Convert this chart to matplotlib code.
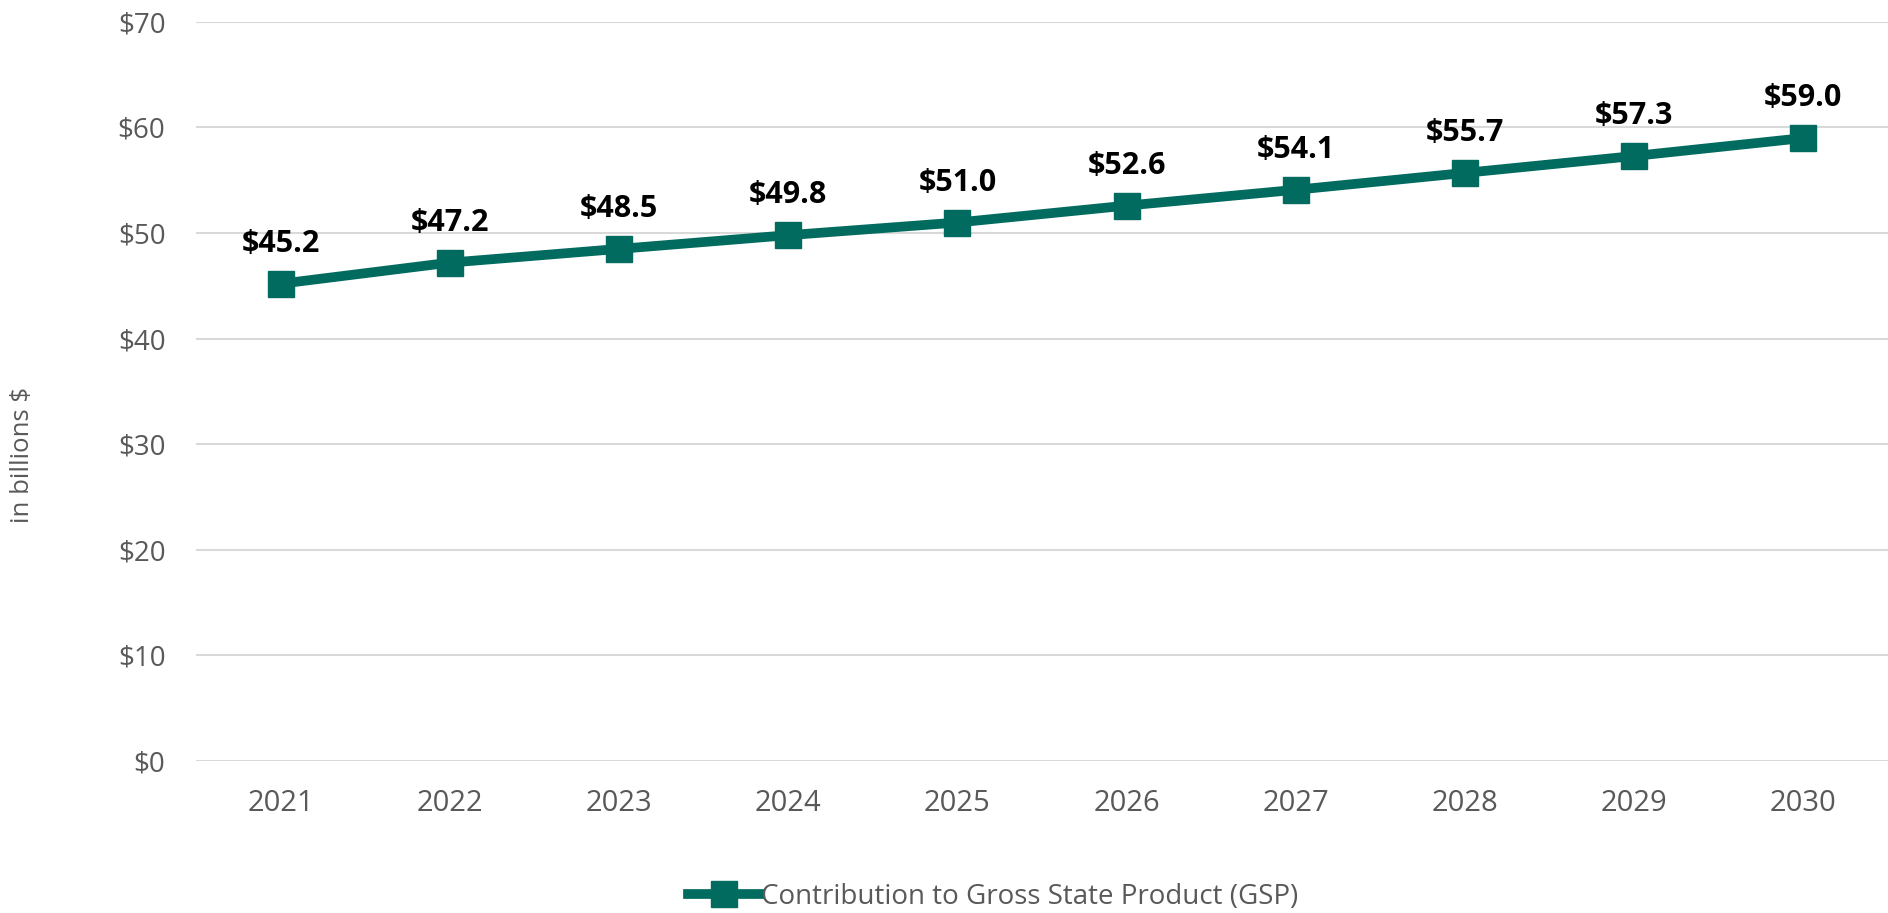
import matplotlib.pyplot as plt

years = ["2021", "2022", "2023", "2024", "2025", "2026", "2027", "2028", "2029", "2030"]
gsp = [45.2, 47.2, 48.5, 49.8, 51.0, 52.6, 54.1, 55.7, 57.3, 59.0]
y_ticks = [0, 10, 20, 30, 40, 50, 60, 70]

teal = "#006b5e"
grey = "#595959"

plt.rcParams["font.family"] = ["Open Sans", "DejaVu Sans"]

fig = plt.figure(figsize=(18.88, 9.13), dpi=100)
ax = fig.add_axes([0.1038, 0.1665, 0.8962, 0.8095])

x = list(range(len(years)))
ax.plot(x, gsp, color=teal, linewidth=7, marker="s", markersize=19,
        markerfacecolor=teal, markeredgecolor=teal, solid_joinstyle="round",
        label="Contribution to Gross State Product (GSP)")

for xi, v in zip(x, gsp):
    ax.annotate(f"${v:.1f}", (xi, v), xytext=(0, 18), textcoords="offset points",
                ha="center", va="bottom", fontsize=22, fontweight="bold", color="black")

ax.set_xlim(-0.5, len(years) - 0.5)
ax.set_ylim(0, 70)
ax.set_yticks(y_ticks)
ax.set_yticklabels([f"${t}" for t in y_ticks])
ax.set_xticks(x)
ax.set_xticklabels(years)
ax.tick_params(axis="both", length=0, labelsize=20, labelcolor=grey)
ax.tick_params(axis="x", labelsize=21, pad=20)
ax.tick_params(axis="y", pad=22)
ax.grid(axis="y", color="#d9d9d9", linewidth=1.5)
ax.set_axisbelow(True)
for s in ax.spines.values():
    s.set_visible(False)

fig.text(0.012, 0.502, "in billions $", rotation=90, ha="center", va="center",
         fontsize=18.5, color=grey)

fig.legend(loc="center", bbox_to_anchor=(0.526, 0.018), frameon=False, fontsize=20,
           labelcolor=grey, handlelength=2.6, handletextpad=0.05)

fig.savefig("out.png", dpi=100)
